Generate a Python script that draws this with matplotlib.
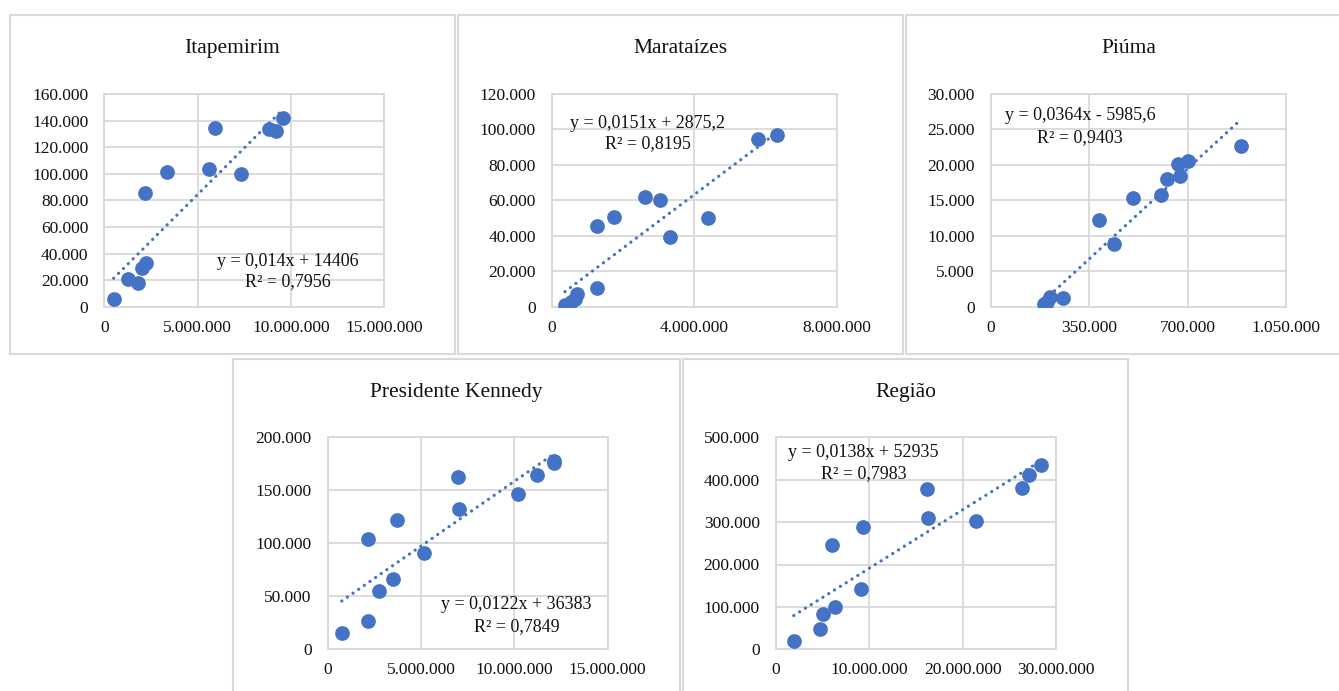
import matplotlib
matplotlib.use("Agg")
import matplotlib.pyplot as plt
import matplotlib.patches as mpatches
from matplotlib.ticker import FuncFormatter, MultipleLocator
import numpy as np

plt.rcParams['font.family'] = ['Liberation Serif', 'DejaVu Serif']

# ---------------- data ----------------
titles = ["Itapemirim", "Marataízes", "Piúma", "Presidente Kennedy", "Região"]

itapemirim_x = [0.50e6, 1.25e6, 1.79e6, 2.02e6, 2.21e6, 2.18e6, 3.34e6, 5.61e6, 5.93e6, 7.30e6, 8.84e6, 9.18e6, 9.59e6]
itapemirim_y = [5800, 20600, 17600, 29300, 33100, 85500, 101600, 103300, 134700, 99800, 133400, 132400, 141700]

marataizes_x = [0.37e6, 0.55e6, 0.64e6, 0.72e6, 1.26e6, 1.26e6, 1.75e6, 2.63e6, 3.03e6, 3.32e6, 4.39e6, 5.79e6, 6.33e6]
marataizes_y = [800, 2500, 4500, 7300, 10700, 45500, 50600, 61700, 60200, 39500, 50200, 94800, 96900]

piuma_x = [190e3, 198e3, 210e3, 255e3, 386e3, 439e3, 507e3, 604e3, 626e3, 664e3, 674e3, 702e3, 889e3]
piuma_y = [380, 700, 1400, 1200, 12200, 8900, 15300, 15800, 18000, 20100, 18500, 20600, 22700]

kennedy_x = [0.75e6, 2.18e6, 2.16e6, 2.75e6, 3.52e6, 3.73e6, 5.16e6, 6.98e6, 7.04e6, 10.18e6, 11.23e6, 12.11e6, 12.14e6]
kennedy_y = [15700, 27000, 103800, 55000, 66000, 122000, 91200, 162900, 132100, 146500, 164500, 178000, 176000]

regiao_x = [1.93e6, 4.78e6, 5.03e6, 6.35e6, 6.03e6, 9.13e6, 9.31e6, 16.2e6, 16.34e6, 21.48e6, 26.33e6, 27.15e6, 28.4e6]
regiao_y = [20400, 47200, 82500, 99800, 245000, 142300, 288500, 377000, 309000, 302700, 380500, 411000, 434700]

trend_slope = [0.014, 0.0151, 0.0364, 0.0122, 0.0138]
trend_intercept = [14406, 2875.2, -5985.6, 36383, 52935]
eq_labels = ["y = 0,014x + 14406", "y = 0,0151x + 2875,2", "y = 0,0364x - 5985,6",
             "y = 0,0122x + 36383", "y = 0,0138x + 52935"]
r2_labels = ["R² = 0,7956", "R² = 0,8195", "R² = 0,9403", "R² = 0,7849", "R² = 0,7983"]

x_max = [15e6, 8e6, 1.05e6, 15e6, 30e6]
x_step = [5e6, 4e6, 350e3, 5e6, 10e6]
y_max = [160000, 120000, 30000, 200000, 500000]
y_step = [20000, 20000, 5000, 50000, 100000]

xs = [itapemirim_x, marataizes_x, piuma_x, kennedy_x, regiao_x]
ys = [itapemirim_y, marataizes_y, piuma_y, kennedy_y, regiao_y]

# ---------------- layout (pixels) ----------------
W, H = 1339, 691
fig = plt.figure(figsize=(W / 100, H / 100), dpi=100)
fig.patch.set_facecolor('white')

def fx(px):
    return px / W

def fy(py):
    return 1 - py / H

panel_boxes = [(10, 15, 455, 354), (458, 15, 903, 354), (906, 15, 1351, 354),
               (233, 359, 680, 700), (683, 359, 1128, 700)]
axes_boxes = [(104.3, 94, 384.3, 306.7), (551.7, 94, 837, 306.7), (991, 94, 1286, 306.7),
              (327.7, 437.3, 607.5, 649.3), (775.7, 437.3, 1056, 649.3)]
eq_pos = [(288.3, 261.7, 281.7), (647.7, 123.3, 144.0), (1080, 115, 137.3),
          (516.5, 604.3, 626.7), (863.5, 452.7, 473.3)]

GRID = '#d9d9d9'
BLUE = '#4472C4'
TXT = '#111111'

def fmt(v, pos):
    return f"{int(round(v)):,}".replace(',', '.')

for i in range(5):
    x0, y0, x1, y1 = panel_boxes[i]
    fig.add_artist(mpatches.Rectangle((fx(x0), fy(y1)), fx(x1 - x0), (y1 - y0) / H,
                                      transform=fig.transFigure, fill=False,
                                      edgecolor=GRID, linewidth=1.5, zorder=0))
    fig.text(fx((x0 + x1) / 2), fy(y0 + 33.7), titles[i], ha='center', va='center',
             fontsize=15.5, color=TXT)

    ax0, ay0, ax1, ay1 = axes_boxes[i]
    ax = fig.add_axes([fx(ax0), fy(ay1), fx(ax1 - ax0), (ay1 - ay0) / H])
    ax.set_xlim(0, x_max[i])
    ax.set_ylim(0, y_max[i])
    ax.xaxis.set_major_locator(MultipleLocator(x_step[i]))
    ax.yaxis.set_major_locator(MultipleLocator(y_step[i]))
    ax.xaxis.set_major_formatter(FuncFormatter(fmt))
    ax.yaxis.set_major_formatter(FuncFormatter(fmt))
    ax.grid(True, color=GRID, linewidth=1.3)
    ax.set_axisbelow(True)
    for s in ax.spines.values():
        s.set_color(GRID)
        s.set_linewidth(1.3)
    ax.tick_params(length=0, labelsize=12.5, colors=TXT)
    ax.tick_params(axis='y', pad=11.5)
    ax.tick_params(axis='x', pad=9.5)
    ax.set_facecolor('white')

    x = np.array(xs[i], dtype=float)
    y = np.array(ys[i], dtype=float)
    ax.plot(x, y, 'o', color=BLUE, markersize=10.6, markeredgewidth=0, zorder=3)
    xl = np.array([x.min(), x.max()])
    ax.plot(xl, trend_slope[i] * xl + trend_intercept[i], color=BLUE, linewidth=2.3,
            linestyle=(0, (0.05, 2.1)), dash_capstyle='round', zorder=2)

    ex, ey1, ey2 = eq_pos[i]
    fig.text(fx(ex), fy(ey1), eq_labels[i], ha='center', va='center', fontsize=13, color=TXT)
    fig.text(fx(ex), fy(ey2), r2_labels[i], ha='center', va='center', fontsize=13, color=TXT)

fig.savefig('out.png', dpi=100, facecolor='white')
